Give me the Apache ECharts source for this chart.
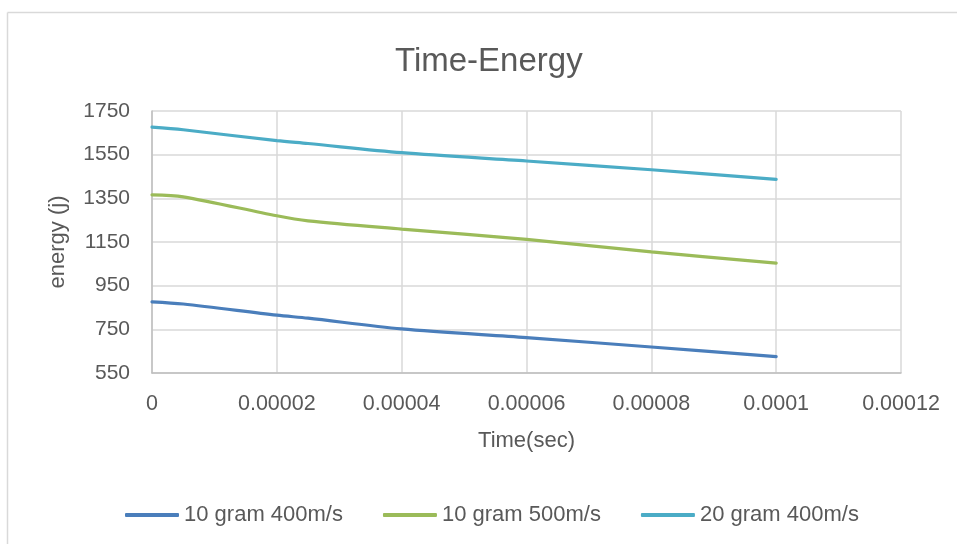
<!DOCTYPE html>
<html>
<head>
<meta charset="utf-8">
<title>Time-Energy</title>
<script src="https://cdn.jsdelivr.net/npm/echarts@6/dist/echarts.min.js"></script>
<style>
  html, body { margin: 0; padding: 0; background: #ffffff; }
  #chart { width: 957px; height: 544px; }
</style>
</head>
<body>
<div id="chart"></div>
<script>
// Sample times (seconds) shared by all three runs
const times = [0, 0.000005, 0.00002, 0.000025, 0.00004, 0.00006, 0.00008, 0.0001];

// Energy (J) per run
const energy10g400 = [876, 866, 815, 801, 752, 712, 669, 625];
const energy10g500 = [1366, 1357, 1270, 1247, 1209, 1162, 1105, 1053];
const energy20g400 = [1676, 1664, 1614, 1601, 1559, 1521, 1481, 1437];

const seriesNames = ['10 gram 400m/s', '10 gram 500m/s', '20 gram 400m/s'];
const seriesColors = ['#4a7ebb', '#9bbb59', '#4bacc6'];

// Tick labels for the time axis
const xTickLabels = ['0', '0.00002', '0.00004', '0.00006', '0.00008', '0.0001', '0.00012'];
const xStep = 0.00002;

const FONT = '"Liberation Sans", Arial, sans-serif';
const TEXT = '#595959';

function pairs(values) {
  return times.map((t, i) => [t, values[i]]);
}

const chart = echarts.init(document.getElementById('chart'), null, { renderer: 'canvas' });

chart.setOption({
  backgroundColor: '#ffffff',
  animation: false,
  textStyle: { fontFamily: FONT, color: TEXT },
  title: {
    text: 'Time-Energy',
    left: 390,
    top: 40,
    textStyle: { fontFamily: FONT, fontSize: 33, fontWeight: 'normal', color: TEXT }
  },
  graphic: [
    // chart frame edges
    { type: 'line', shape: { x1: 7.5, y1: 12.5, x2: 957, y2: 12.5 }, style: { stroke: '#d9d9d9', lineWidth: 1.5 }, silent: true },
    { type: 'line', shape: { x1: 7.5, y1: 12.5, x2: 7.5, y2: 544 }, style: { stroke: '#d9d9d9', lineWidth: 1.5 }, silent: true }
  ],
  legend: {
    bottom: 13,
    left: 120,
    itemWidth: 54,
    itemHeight: 4,
    itemGap: 40,
    icon: 'roundRect',
    textStyle: { fontFamily: FONT, fontSize: 22, color: TEXT },
    data: seriesNames
  },
  grid: { left: 152, right: 56, top: 111, bottom: 171, containLabel: false },
  xAxis: {
    type: 'value',
    min: 0,
    max: 0.00012,
    interval: xStep,
    name: 'Time(sec)',
    nameLocation: 'middle',
    nameGap: 57,
    nameTextStyle: { fontFamily: FONT, fontSize: 22, color: TEXT },
    axisLine: { show: true, lineStyle: { color: '#bfbfbf', width: 1.5 } },
    axisTick: { show: false },
    axisLabel: {
      margin: 20,
      fontFamily: FONT,
      fontSize: 21.5,
      color: TEXT,
      formatter: v => xTickLabels[Math.round(v / xStep)]
    },
    splitLine: { show: true, lineStyle: { color: '#d9d9d9', width: 1.5 } }
  },
  yAxis: {
    type: 'value',
    min: 550,
    max: 1750,
    interval: 200,
    name: 'energy (j)',
    nameLocation: 'middle',
    nameRotate: 90,
    nameGap: 83,
    nameTextStyle: { fontFamily: FONT, fontSize: 22, color: TEXT },
    axisLine: { show: true, lineStyle: { color: '#bfbfbf', width: 1.5 } },
    axisTick: { show: false },
    axisLabel: { margin: 22, fontFamily: FONT, fontSize: 21, color: TEXT, formatter: v => String(v) },
    splitLine: { show: true, lineStyle: { color: '#d9d9d9', width: 1.5 } }
  },
  series: [energy10g400, energy10g500, energy20g400].map((vals, i) => ({
    name: seriesNames[i],
    type: 'line',
    data: pairs(vals),
    smooth: 0.3,
    showSymbol: false,
    symbol: 'none',
    color: seriesColors[i],
    lineStyle: { width: 3.2, color: seriesColors[i], cap: 'round' }
  }))
});
</script>
</body>
</html>
